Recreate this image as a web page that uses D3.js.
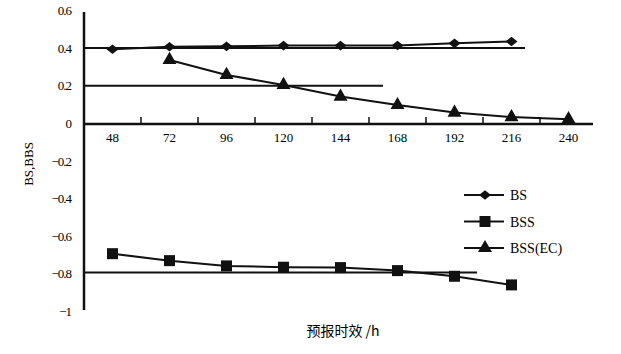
<!DOCTYPE html>
<html lang="zh">
<head>
<meta charset="UTF-8" />
<title>BS BSS</title>
<script src="https://d3js.org/d3.v7.min.js"></script>
<style>
  body { margin: 0; background: #fff; }
  svg { display: block; }
</style>
</head>
<body>
<svg width="621" height="354"></svg>
<script>
// Data
const hours = [48, 72, 96, 120, 144, 168, 192, 216, 240];
const bs = [0.397, 0.41, 0.412, 0.416, 0.416, 0.417, 0.428, 0.438, null];
const bss = [-0.69, -0.727, -0.755, -0.762, -0.764, -0.78, -0.81, -0.856, null];
const bssEc = [null, 0.34, 0.26, 0.207, 0.145, 0.10, 0.06, 0.036, 0.025];
const yTicks = [0.6, 0.4, 0.2, 0, -0.2, -0.4, -0.6, -0.8, -1];
const minorTicks = [60, 84, 108, 132, 156, 180, 204, 228];
// flat reference lines: level and the hour where they stop
const refLines = [
  { y: 0.403, end: 221.7 },
  { y: 0.202, end: 161.9 },
  { y: -0.79, end: 201.5 }
];
const seriesNames = ["BS", "BSS", "BSS(EC)"];

const serif = "'Liberation Serif', 'Times New Roman', 'DejaVu Serif', serif";
const svg = d3.select("svg");
const x = d3.scaleLinear().domain([36, 252]).range([84, 597]);
const y = d3.scaleLinear().domain([-1, 0.6]).range([312, 11]);

// reference lines
svg.selectAll(".ref")
  .data(refLines)
  .enter()
  .append("line")
  .attr("x1", x(36))
  .attr("x2", (d) => x(d.end))
  .attr("y1", (d) => y(d.y))
  .attr("y2", (d) => y(d.y))
  .attr("stroke", "#111")
  .attr("stroke-width", 2);

// y axis
svg.append("line")
  .attr("x1", x(36)).attr("x2", x(36))
  .attr("y1", y(0.6) + 1).attr("y2", y(-1) - 2)
  .attr("stroke", "#111").attr("stroke-width", 2.5);

svg.selectAll(".ylab")
  .data(yTicks)
  .enter()
  .append("text")
  .attr("x", 71)
  .attr("y", (d) => y(d) + 4)
  .attr("text-anchor", "end")
  .attr("font-family", serif)
  .attr("font-size", 13)
  .attr("letter-spacing", -1)
  .text((d) => (d < 0 ? "\u2212" : "") + Math.abs(d));

// x axis at zero
svg.append("line")
  .attr("x1", x(36)).attr("x2", 593)
  .attr("y1", y(0)).attr("y2", y(0))
  .attr("stroke", "#111").attr("stroke-width", 2.5);

svg.selectAll(".mtick")
  .data(minorTicks)
  .enter()
  .append("line")
  .attr("x1", (d) => x(d)).attr("x2", (d) => x(d))
  .attr("y1", y(0) - 7).attr("y2", y(0))
  .attr("stroke", "#111").attr("stroke-width", 1.5);

svg.selectAll(".xlab")
  .data(hours)
  .enter()
  .append("text")
  .attr("x", (d) => x(d))
  .attr("y", y(0) + 18)
  .attr("text-anchor", "middle")
  .attr("font-family", serif)
  .attr("font-size", 13)
  .text((d) => d);

// series
const line = d3.line()
  .x((d) => x(d[0]))
  .y((d) => y(d[1]));

// wide diamond like the original marker
const diamond = { draw(ctx, size) {
  const w = Math.sqrt(size) * 0.75, h = Math.sqrt(size) * 0.6;
  ctx.moveTo(-w, 0); ctx.lineTo(0, -h); ctx.lineTo(w, 0); ctx.lineTo(0, h); ctx.closePath();
} };

const sym = {
  "BS": d3.symbol().type(diamond).size(64),
  "BSS": d3.symbol().type(d3.symbolSquare).size(121),
  "BSS(EC)": d3.symbol().type(d3.symbolTriangle).size(85)
};

[bs, bss, bssEc].forEach((vals, i) => {
  const pts = hours.map((h, j) => [h, vals[j]]).filter((d) => d[1] !== null);
  svg.append("path")
    .attr("d", line(pts))
    .attr("fill", "none")
    .attr("stroke", "#111")
    .attr("stroke-width", 2);
  svg.selectAll(".m" + i)
    .data(pts)
    .enter()
    .append("path")
    .attr("d", sym[seriesNames[i]]())
    .attr("transform", (d) => `translate(${x(d[0])},${y(d[1])})`)
    .attr("fill", "#111");
});

// legend
const legend = svg.selectAll(".leg")
  .data(seriesNames)
  .enter()
  .append("g")
  .attr("transform", (d, i) => `translate(464,${195 + i * 26.5})`);
legend.append("line")
  .attr("x1", 0).attr("x2", 40)
  .attr("stroke", "#111").attr("stroke-width", 2);
legend.append("path")
  .attr("d", (d) => sym[d]())
  .attr("transform", "translate(21,0)")
  .attr("fill", "#111");
legend.append("text")
  .attr("x", 46)
  .attr("y", 5)
  .attr("font-family", serif)
  .attr("font-size", 14)
  .text((d) => d);

// axis titles
svg.append("text")
  .attr("transform", "translate(33,164) rotate(-90)")
  .attr("text-anchor", "middle")
  .attr("font-family", serif)
  .attr("font-size", 13)
  .text("BS,BBS");

svg.append("text")
  .attr("x", 343)
  .attr("y", 336)
  .attr("text-anchor", "middle")
  .attr("font-family", "'Noto Sans CJK SC', serif")
  .attr("font-size", 14)
  .text("预报时效 /h");
</script>
</body>
</html>
